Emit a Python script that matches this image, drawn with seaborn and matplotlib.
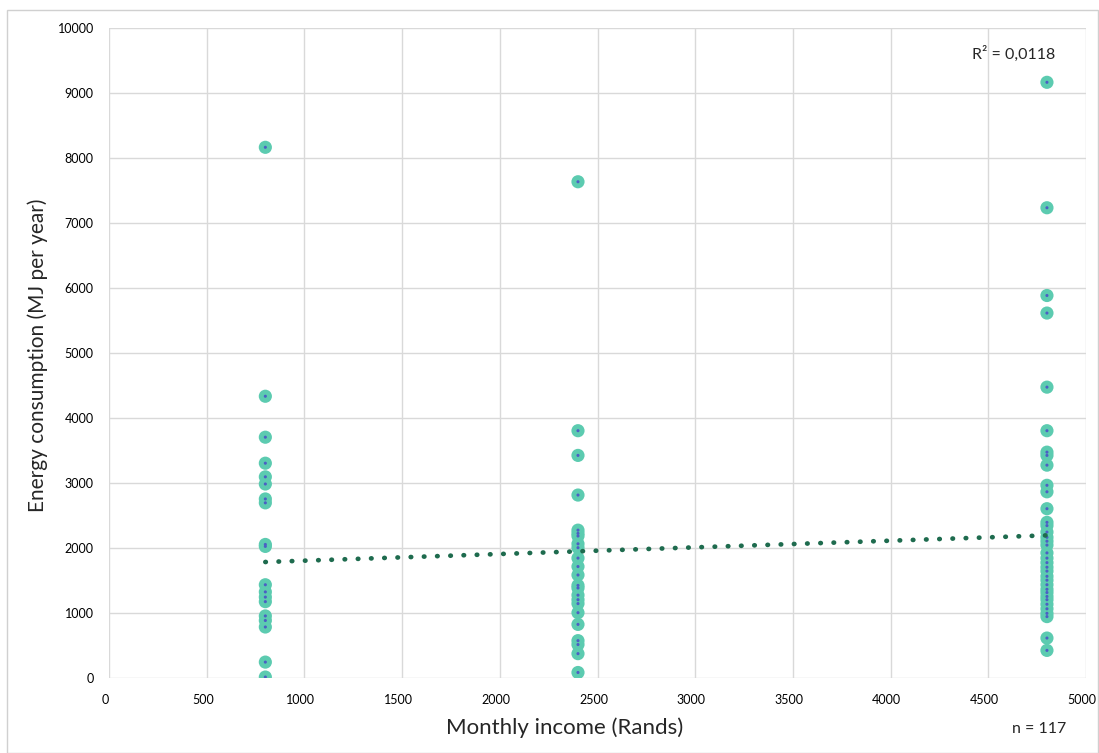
import matplotlib
matplotlib.use("Agg")
import matplotlib.pyplot as plt
import matplotlib.transforms as mtransforms
import seaborn as sns
import pandas as pd
import numpy as np
from matplotlib.patches import Rectangle

# Household survey: monthly income bracket vs. annual energy consumption
income_800 = [8160, 4330, 3700, 3300, 3090, 2980, 2750, 2690, 2050, 2020,
              1430, 1320, 1240, 1170, 950, 880, 780, 240, 10]
income_2400 = [7630, 3800, 3420, 2810, 2270, 2220, 2180, 2060, 2000, 1840,
               1710, 1580, 1420, 1380, 1270, 1200, 1140, 1000, 820, 570,
               510, 370, 80]
income_4800 = [9160, 7230, 5880, 5610, 4470, 3800, 3470, 3420, 3270, 2960,
               2860, 2600, 2390, 2340, 2240, 2160, 2100, 2040, 1920, 1840,
               1770, 1700, 1640, 1560, 1500, 1430, 1360, 1310, 1250, 1200,
               1130, 1060, 990, 940, 610, 420]
income_levels = [800, 2400, 4800]

# Linear trend line (Excel-style) and its fit statistic
trend_intercept = 1698.0
trend_slope = 0.1025
trend_x = [800, 4800]
r_squared_label = "R² = 0,0118"
n_label = "n = 117"

x_ticks = list(range(0, 5001, 500))
y_ticks = list(range(0, 10001, 1000))

df = pd.DataFrame({
    "income": [income_levels[0]] * len(income_800)
              + [income_levels[1]] * len(income_2400)
              + [income_levels[2]] * len(income_4800),
    "energy": income_800 + income_2400 + income_4800,
})

sns.set_theme(style="white")
plt.rcParams["font.family"] = ["Lato", "DejaVu Sans"]

fig = plt.figure(figsize=(10.99, 7.53), dpi=100)
ax = fig.add_axes([0.0992, 0.1000, 0.8890, 0.8632])

# Outer chart frame
fig.patches.append(Rectangle((7 / 1099, 0.0), 1 - 7 / 1099 - 0.0005, 1 - 10 / 753,
                             transform=fig.transFigure, fill=False,
                             edgecolor="#d0d0d0", linewidth=1.0))

sns.scatterplot(data=df, x="income", y="energy", ax=ax, s=90,
                color="#5ccbb0", edgecolor="none", zorder=3, legend=False)
sns.scatterplot(data=df, x="income", y="energy", ax=ax, s=5,
                color="#4b5fc4", edgecolor="none", zorder=4, legend=False)

tx = np.array(trend_x, dtype=float)
ty = trend_intercept + trend_slope * tx
sns.lineplot(x=tx, y=ty, ax=ax, color="#1e6b4e", linewidth=3.4, zorder=5)
ax.lines[-1].set_linestyle((0, (0.1, 2.7)))
ax.lines[-1].set_dash_capstyle("round")

ax.set_xlim(0, 5000)
ax.set_ylim(0, 10000)
ax.set_xticks(x_ticks)
ax.set_yticks(y_ticks)
ax.set_xticklabels([str(t) for t in x_ticks])
ax.set_yticklabels([str(t) for t in y_ticks])
ax.tick_params(axis="both", labelsize=9, colors="#000000", length=0)
ax.tick_params(axis="x", pad=12)
ax.tick_params(axis="y", pad=11)

# nudge the x tick labels slightly left so the last one stays inside the frame
shift = mtransforms.ScaledTranslation(-4 / 100, 0, fig.dpi_scale_trans)
for lbl in ax.get_xticklabels():
    lbl.set_transform(lbl.get_transform() + shift)

ax.grid(True, color="#d9d9d9", linewidth=1.0)
ax.set_axisbelow(True)
for side in ["left", "bottom", "right", "top"]:
    ax.spines[side].set_visible(False)

ax.set_xlabel("")
ax.set_ylabel("")
fig.text(565 / 1099, 1 - 728 / 753, "Monthly income (Rands)",
         ha="center", va="center", fontsize=16)
fig.text(38 / 1099, 1 - 355 / 753, "Energy consumption (MJ per year)",
         ha="center", va="center", rotation=90, fontsize=15)

ax.text(0.968, 0.972, r_squared_label, transform=ax.transAxes,
        ha="right", va="top", fontsize=11.5)
fig.text(1066 / 1099, 1 - 729 / 753, n_label, ha="right", va="center",
         fontsize=11.5)

fig.savefig("out.png", dpi=100, facecolor="white")
